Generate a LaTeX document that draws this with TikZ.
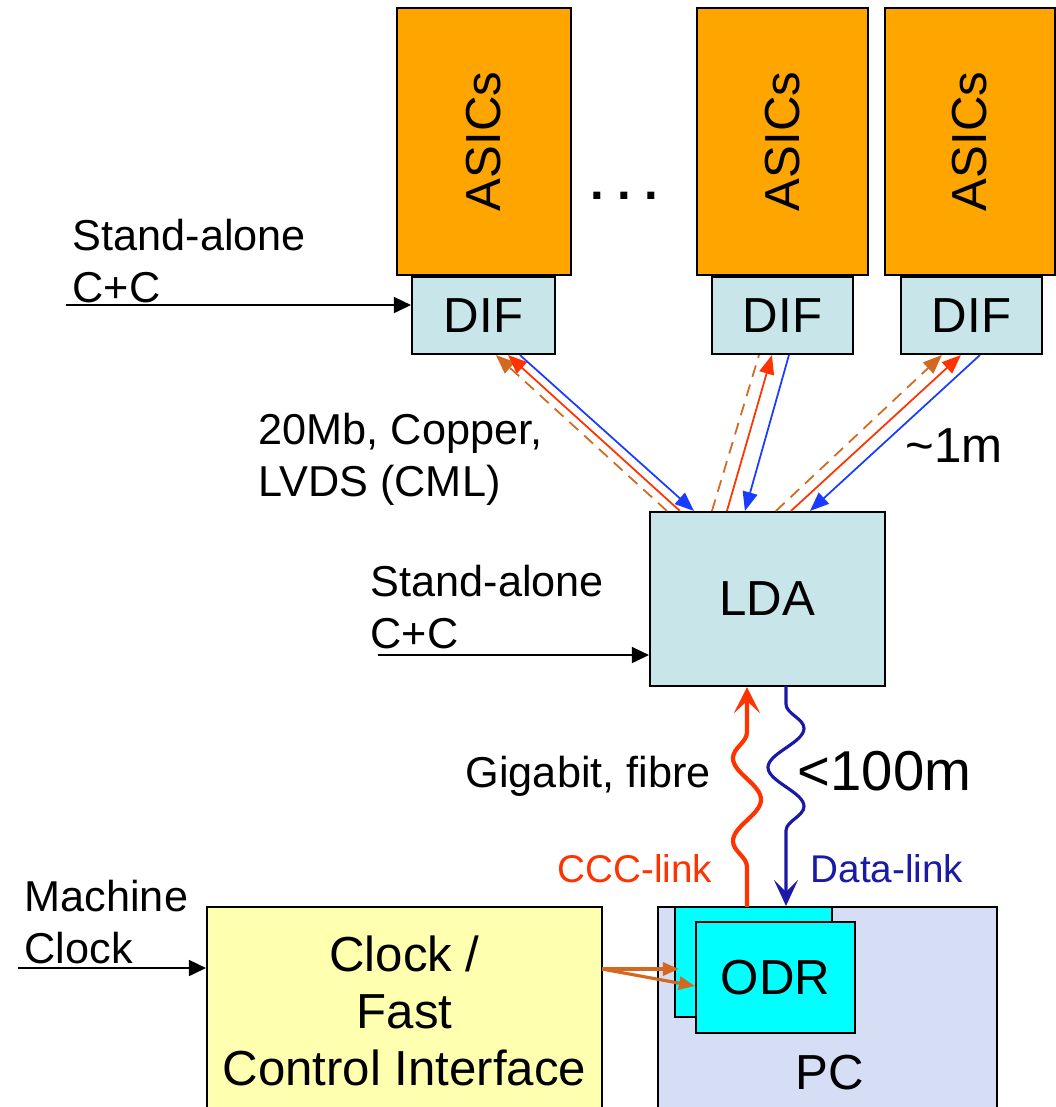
\documentclass[tikz,border=0pt]{standalone}
\usepackage{fontspec}
\setmainfont{Liberation Sans}
\usepackage{graphicx}
\usetikzlibrary{arrows.meta,positioning,decorations.pathmorphing}
\definecolor{AsicOrange}{HTML}{FFA500}
\definecolor{DifBlue}{HTML}{C8E6EA}
\definecolor{ClockYellow}{HTML}{FFFFB0}
\definecolor{PcLilac}{HTML}{D6DEF6}
\definecolor{OdrCyan}{HTML}{00FFFF}
\definecolor{LinkRed}{HTML}{FF3300}
\definecolor{LinkBlue}{HTML}{1A3CFF}
\definecolor{DataBlue}{HTML}{1A1AA6}
\definecolor{CtrlOrange}{HTML}{D2691E}

\begin{document}
\begin{tikzpicture}[
  bigtext/.style={font=\fontsize{14}{16.2}\selectfont},
  labeltext/.style={font=\fontsize{12.3}{14.8}\selectfont, align=left, inner sep=0pt},
  box/.style={draw, line width=0.6pt, inner sep=0pt, bigtext},
  feed/.style={line width=0.5pt, -{Triangle[length=1.7mm,width=1.6mm]}},
  cuctrl/.style={CtrlOrange, line width=0.5pt, dashed, dash pattern=on 1.2mm off 0.8mm},
  cuclock/.style={LinkRed, line width=0.5pt},
  cudata/.style={LinkBlue, line width=0.5pt},
  cutip/.style={-{Triangle[length=1.9mm,width=1.5mm]}}
]
  \useasboundingbox (0,0) rectangle (10.55,-11.07);

  % Front-end: ASIC stacks with their DIFs
  \node[box, fill=AsicOrange, minimum width=1.74cm, minimum height=2.67cm] (asic1) at (4.84,-1.415) {\rotatebox{90}{ASICs}};
  \node[box, fill=AsicOrange, minimum width=1.71cm, minimum height=2.67cm] (asic2) at (7.825,-1.415) {\rotatebox{90}{ASICs}};
  \node[box, fill=AsicOrange, minimum width=1.70cm, minimum height=2.67cm] (asic3) at (9.70,-1.415) {\rotatebox{90}{ASICs}};
  \node[bigtext, font=\fontsize{14}{16}\selectfont\bfseries, anchor=base] (dots) at (6.245,-1.99) {.\ .\ .};

  \node[box, fill=DifBlue, minimum width=1.43cm, minimum height=0.77cm] (dif1) at (4.835,-3.155) {DIF};
  \node[box, fill=DifBlue, minimum width=1.41cm, minimum height=0.77cm] (dif2) at (7.825,-3.155) {DIF};
  \node[box, fill=DifBlue, minimum width=1.41cm, minimum height=0.77cm] (dif3) at (9.715,-3.155) {DIF};

  % Link/Data Aggregator
  \node[box, fill=DifBlue, minimum width=2.35cm, minimum height=1.74cm] (lda) at (7.675,-5.99) {LDA};

  % Off-detector side
  \node[box, fill=ClockYellow, minimum width=3.95cm, minimum height=2.08cm, align=center] (clock) at (4.045,-10.11)
  {Clock /\\Fast\\Control Interface};
  \node[box, fill=PcLilac, minimum width=3.39cm, minimum height=2.08cm] (pc) at (8.275,-10.11) {};
  \node[bigtext] (pclabel) at (8.30,-10.73) {PC};
  \node[box, fill=OdrCyan, minimum width=1.57cm, minimum height=1.10cm] (odrback) at (7.535,-9.62) {};
  \node[box, fill=OdrCyan, minimum width=1.59cm, minimum height=1.11cm] (odr) at (7.755,-9.775) {ODR};

  % Labels
  \node[labeltext, anchor=north west] (sa1) at (0.72,-2.18) {Stand-alone\\C+C};
  \node[labeltext, anchor=north west] (culabel) at (2.58,-4.12) {20Mb, Copper,\\LVDS (CML)};
  \node[bigtext, anchor=base west, inner sep=0pt] (reach1) at (9.05,-4.62) {\textasciitilde1m};
  \node[labeltext, anchor=north west] (sa2) at (3.70,-5.64) {Stand-alone\\C+C};
  \node[labeltext, anchor=base west] (fibre) at (4.65,-7.87) {Gigabit, fibre};
  \node[bigtext, font=\fontsize{16}{18}\selectfont, anchor=base west, inner sep=0pt] (reach2) at (7.97,-7.90) {<100m};
  \node[labeltext, font=\fontsize{11}{13}\selectfont, text=LinkRed, anchor=base west] (ccclabel) at (5.57,-8.82) {CCC-link};
  \node[labeltext, font=\fontsize{11}{13}\selectfont, text=DataBlue, anchor=base west] (datalabel) at (8.10,-8.82) {Data-link};
  \node[labeltext, anchor=north west] (mclock) at (0.24,-8.79) {Machine\\Clock};

  % Inputs
  \coordinate (sa1in) at (0.66,-3.05);
  \coordinate (sa2in) at (3.78,-6.55);
  \coordinate (mcin) at (0.18,-9.68);
  \draw[feed] (sa1in) -- (sa1in -| dif1.west);
  \draw[feed] (sa2in) -- (sa2in -| lda.west);
  \draw[feed] (mcin) -- (mcin -| clock.west);

  % Copper links DIF <-> LDA
  \draw[cuctrl, cutip] ([xshift=1.8mm]lda.north west) -- ([xshift=8.5mm]dif1.south west);
  \draw[cuclock, cutip] ([xshift=3.1mm]lda.north west) -- ([xshift=9.7mm]dif1.south west);
  \draw[cudata, cutip] ([xshift=10.9mm]dif1.south west) -- ([xshift=4.5mm]lda.north west);

  \draw[cuctrl] ([xshift=6.3mm]lda.north west) -- ([xshift=4.8mm]dif2.south west);
  \draw[cuclock, cutip] ([xshift=7.8mm]lda.north west) -- ([xshift=6.1mm]dif2.south west);
  \draw[cudata, cutip] ([xshift=7.8mm]dif2.south west) -- ([xshift=9.6mm]lda.north west);

  \draw[cuctrl, cutip] ([xshift=12.7mm]lda.north west) -- ([xshift=4.2mm]dif3.south west);
  \draw[cuclock, cutip] ([xshift=14.2mm]lda.north west) -- ([xshift=6.1mm]dif3.south west);
  \draw[cudata, cutip] ([xshift=8.0mm]dif3.south west) -- ([xshift=16.1mm]lda.north west);

  % Fibre links LDA <-> ODR
  \coordinate (cccfoot) at (7.47,-9.07);
  \coordinate (datatop) at (7.86,-6.86);
  \draw[LinkRed, line width=1.2pt, -{Stealth[length=2.6mm,width=2.6mm,inset=1.2mm]},
    decorate, decoration={snake, segment length=8.3mm, amplitude=1.4mm, pre length=4mm, post length=1.2mm}]
    (cccfoot) -- (cccfoot |- lda.south);
  \draw[DataBlue, line width=0.9pt, -{Stealth[length=2.6mm,width=2.4mm,inset=1.2mm]},
    decorate, decoration={snake, segment length=7.8mm, amplitude=1.8mm, pre length=1.8mm, post length=4mm}]
    (datatop) -- (datatop |- odrback.north);

  % Fast control to ODR
  \coordinate (ctrlout) at (6.02,-9.69);
  \draw[CtrlOrange, line width=0.9pt, -{Triangle[length=1.6mm,width=1.3mm]}] (ctrlout) -- ([xshift=0.5mm]ctrlout -| odrback.west);
  \draw[CtrlOrange, line width=0.9pt, -{Triangle[length=1.6mm,width=1.3mm]}] (ctrlout) -- (odr.west |- 0,-9.86);
\end{tikzpicture}
\end{document}
